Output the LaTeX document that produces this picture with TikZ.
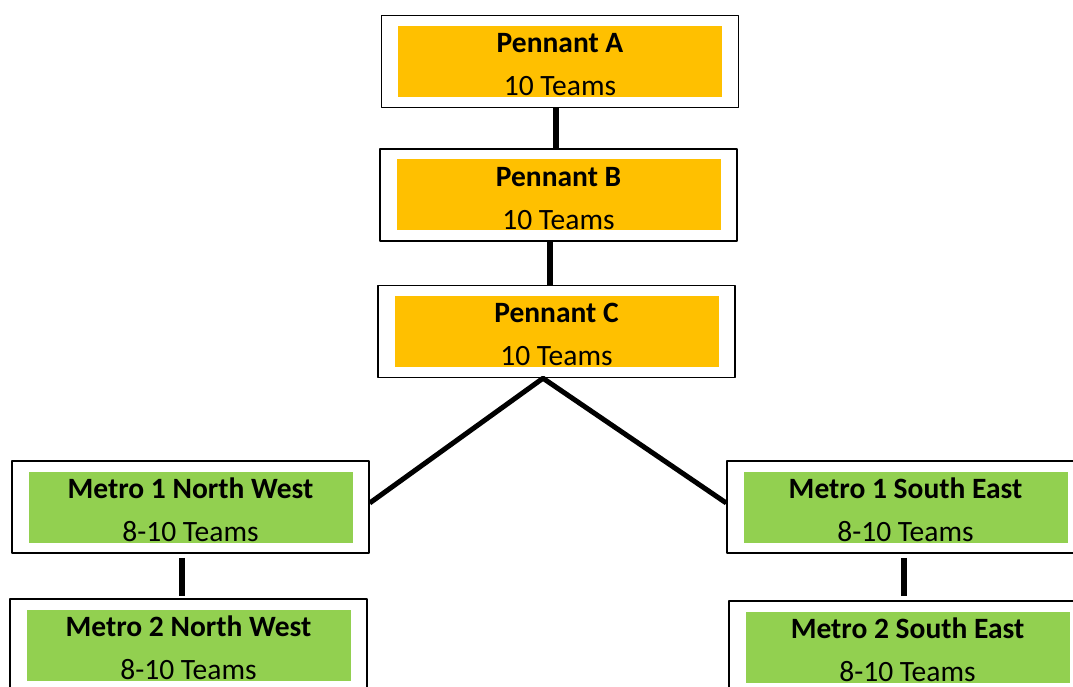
\documentclass[tikz,border=0pt]{standalone}
\usepackage{fontspec}
\setmainfont{Carlito}
\definecolor{pennant}{HTML}{FFC000}
\definecolor{metro}{HTML}{92D050}
\tikzset{
  outerbox/.style={draw, line width=1.5pt, fill=white, minimum width=357pt, minimum height=92pt, inner sep=0pt},
  innerbox/.style={fill=#1, minimum width=324pt, minimum height=71pt, inner sep=0pt},
  titletext/.style={anchor=base, inner sep=0pt, font=\fontsize{29.5}{35}\selectfont\bfseries},
  subtext/.style={anchor=base, inner sep=0pt, font=\fontsize{29.5}{35}\selectfont},
  link/.style={line width=6pt},
  vlink/.style={line width=5pt},
}
\begin{document}
\begin{tikzpicture}[x=1pt, y=1pt, line join=round]
  \useasboundingbox (0,0) rectangle (1073,686);
  \clip (0,0) rectangle (1073,686);
  % boxes: name/x/y/colour/title/teams
  \foreach \n/\x/\y/\c/\t/\s in {
      pa/560/624.5/pennant/Pennant A/10 Teams,
      pb/558.5/491/pennant/Pennant B/10 Teams,
      pc/556.5/354.5/pennant/Pennant C/10 Teams,
      mnwa/190.5/179/metro/Metro 1 North West/8-10 Teams,
      mnwb/188.5/41/metro/Metro 2 North West/8-10 Teams,
      msea/905.5/179/metro/Metro 1 South East/8-10 Teams,
      mseb/907.5/39/metro/Metro 2 South East/8-10 Teams} {
    \node[outerbox] (\n) at (\x,\y) {};
    \node[innerbox=\c] (\n-in) at (\n.center) {};
    \node[titletext] (\n-t) at ([yshift=8.5pt]\n.center) {\t};
    \node[subtext] (\n-s) at ([yshift=-34.5pt]\n.center) {\s};
  }
  % connectors
  \draw[link] ([xshift=-4pt]pa.south) -- ([xshift=-4pt]pa.south |- pb.north);
  \draw[link] ([xshift=-8.5pt]pb.south) -- ([xshift=-8.5pt]pb.south |- pc.north);
  \draw[vlink] ([yshift=4pt]mnwa.east) -- ([xshift=-13.5pt]pc.south) -- ([yshift=4pt]msea.west);
  \draw[link, shorten <=4pt, shorten >=2pt] ([xshift=-8.5pt]mnwa.south) -- ([xshift=-8.5pt]mnwa.south |- mnwb.north);
  \draw[link, shorten <=4pt, shorten >=4pt] ([xshift=-1.5pt]msea.south) -- ([xshift=-1.5pt]msea.south |- mseb.north);
\end{tikzpicture}
\end{document}
